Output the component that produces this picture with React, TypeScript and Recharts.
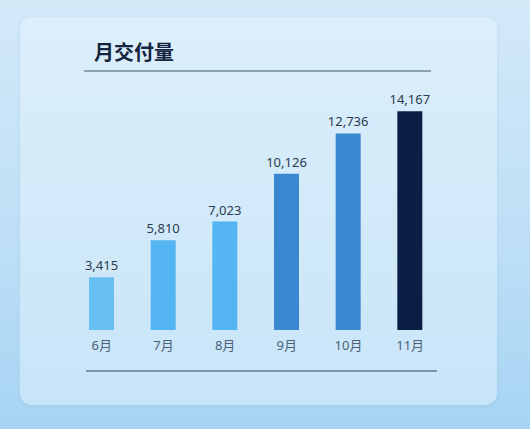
import React from 'react';
import { BarChart, Bar, XAxis, YAxis, Cell, LabelList } from 'recharts';

const months = ['6月', '7月', '8月', '9月', '10月', '11月'];
const deliveries = [3415, 5810, 7023, 10126, 12736, 14167];
const barColors = ['#68bff2', '#55b5f2', '#55b5f2', '#3a87cf', '#3a87cf', '#0b1f46'];

const data = months.map((month, i) => ({ month, value: deliveries[i] }));

const font = '"Noto Sans", "Noto Sans CJK SC", sans-serif';

const App = () => {
  return (
    <div
      style={{
        position: 'fixed',
        left: 0,
        top: 0,
        width: 530,
        height: 429,
        overflow: 'hidden',
        background: 'linear-gradient(180deg, #d3e9f8 0%, #bcdef6 60%, #a6d4f4 100%)',
        fontFamily: font,
      }}
    >
      <div
        style={{
          position: 'absolute',
          left: 20,
          top: 17,
          width: 477,
          height: 388,
          borderRadius: 12,
          background: 'linear-gradient(180deg, #dceefb 0%, #d0e9f9 60%, #c8e5f8 100%)',
          boxShadow: '0 1px 4px rgba(80,130,170,0.12)',
        }}
      />
      <div
        style={{
          position: 'absolute',
          left: 94,
          top: 42,
          fontSize: 20,
          lineHeight: '20px',
          fontWeight: 700,
          color: '#16253f',
          fontFamily: '"Noto Sans CJK SC", sans-serif',
        }}
      >
        月交付量
      </div>
      <div style={{ position: 'absolute', left: 84, top: 70, width: 347, height: 2, background: '#8ea2b6' }} />
      <div style={{ position: 'absolute', left: 86, top: 370, width: 351, height: 2, background: '#7c93a9' }} />
      <div style={{ position: 'absolute', left: 0, top: 0 }}>
        <BarChart
          width={530}
          height={429}
          data={data}
          margin={{ top: 83, right: 89, left: 71, bottom: 69 }}
        >
          <XAxis
            dataKey="month"
            height={30}
            axisLine={false}
            tickLine={false}
            tickMargin={5}
            tick={{ fill: '#4d6078', fontSize: 13, fontFamily: font }}
            interval={0}
          />
          <YAxis hide domain={[0, 16000]} />
          <Bar dataKey="value" barSize={25} isAnimationActive={false}>
            {data.map((d, i) => (
              <Cell key={d.month} fill={barColors[i]} />
            ))}
            <LabelList
              dataKey="value"
              position="top"
              offset={7}
              formatter={(v: number) => v.toLocaleString('en-US')}
              style={{ fill: '#2b3a4f', fontSize: 13, fontFamily: font }}
            />
          </Bar>
        </BarChart>
      </div>
    </div>
  );
};

export default App;
